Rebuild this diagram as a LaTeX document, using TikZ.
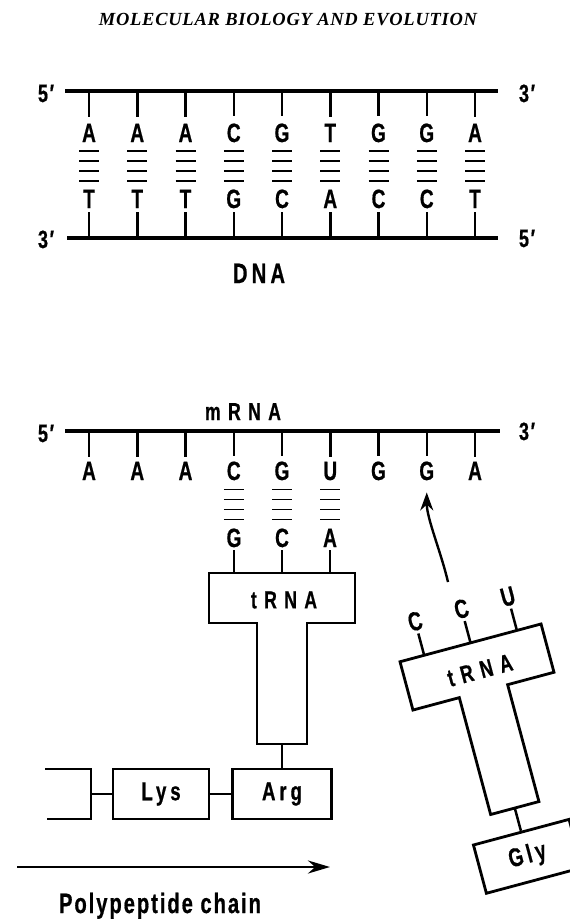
\documentclass[tikz,border=0pt]{standalone}
\usepackage{fontspec}
\usepackage{tikz}
\usetikzlibrary{arrows.meta}
\newfontfamily\labfont[FakeStretch=0.72,LetterSpace=7,FakeBold=0.6]{Liberation Sans}
\newfontfamily\boxfont[FakeStretch=0.72,LetterSpace=15,FakeBold=0.6]{Liberation Sans}
\newfontfamily\wideLabfont[FakeStretch=0.72,LetterSpace=30,FakeBold=0.6]{Liberation Sans}
\newfontfamily\titlefont[LetterSpace=4]{Liberation Serif}
\tikzset{
  nuc/.style={font=\labfont\bfseries\fontsize{26.5}{26.5}\selectfont, inner sep=0pt, anchor=base},
  lab/.style={font=\labfont\bfseries\fontsize{28}{28}\selectfont, inner sep=0pt, anchor=base},
  wideLab/.style={font=\wideLabfont\bfseries\fontsize{24.5}{24.5}\selectfont, inner sep=0pt},
  ends/.style={font=\labfont\bfseries\fontsize{25}{25}\selectfont, inner sep=0pt, anchor=base},
  strand/.style={line width=3.2pt},
  tick/.style={line width=2.5pt},
  hbond/.style={line width=1.6pt},
  boxLine/.style={line width=2.8pt, line join=miter},
  aa/.style={draw, line width=2.8pt, minimum width=99pt, minimum height=50pt, inner sep=0pt,
    font=\boxfont\bfseries\fontsize{26}{26}\selectfont},
  curvy/.style={line width=2.4pt, -{Stealth[length=18pt,width=13pt]}},
  chainArrow/.style={line width=2.8pt, -{Stealth[length=22pt,width=13pt]}}
}

\begin{document}
\begin{tikzpicture}[x=1pt,y=-1pt]
  \clip (0,0) rectangle (570,921);
  \fill[white] (0,0) rectangle (570,921);
  \node[font=\titlefont\bfseries\itshape\fontsize{18.5}{18.5}\selectfont, inner sep=0pt, anchor=base]
    (title) at (288,25) {MOLECULAR BIOLOGY AND EVOLUTION};

  % DNA double strand
  \coordinate (dnaTopL) at (65,91);  \coordinate (dnaTopR) at (498,91);
  \coordinate (dnaBotL) at (67,238); \coordinate (dnaBotR) at (498,238);
  \draw[strand] (dnaTopL) -- (dnaTopR);
  \draw[strand] (dnaBotL) -- (dnaBotR);
  \node[ends] (d5) at (46,102) {5′};
  \node[ends] (d3) at (527,102) {3′};
  \node[ends] (e3) at (46,248) {3′};
  \node[ends] (e5) at (527,247) {5′};
  \foreach \na/\nb [count=\i from 0] in {A/T,A/T,A/T,C/G,G/C,T/A,G/C,G/C,A/T} {
    \node[nuc] (d\i) at ({89+48.25*\i},142) {\na};
    \node[nuc] (e\i) at ({89+48.25*\i},208) {\nb};
    \draw[tick, shorten >=7pt] (d\i |- dnaTopL) -- (d\i);
    \draw[tick, shorten >=4pt] (e\i |- dnaBotL) -- (e\i);
    \path (d\i.south) -- (e\i.north) coordinate[midway] (p\i);
    \foreach \dy in {-15,-5,5,15}
      \draw[hbond] ([shift={(-10,\dy)}]p\i) -- ([shift={(10,\dy)}]p\i);
  }
  \node[lab, font=\boxfont\bfseries\fontsize{28}{28}\selectfont] (dna) at (259,283) {DNA};

  % mRNA
  \coordinate (mL) at (65,431); \coordinate (mR) at (500,431);
  \draw[strand] (mL) -- (mR);
  \node[ends] (m5) at (46,442) {5′};
  \node[ends] (m3) at (527,440) {3′};
  \node[wideLab, anchor=base] (mrna) at (243,420) {mRNA};
  \foreach \na [count=\i from 0] in {A,A,A,C,G,U,G,G,A} {
    \node[nuc] (m\i) at ({89+48.25*\i},480) {\na};
    \draw[tick, shorten >=5pt] (m\i |- mL) -- (m\i);
  }

  % tRNA carrying Arg
  \begin{scope}[shift={(282,598)}]
    \draw[boxLine] (-73,-25) -- (73,-25) -- (73,25) -- (25,25) -- (25,146)
      -- (-25,146) -- (-25,25) -- (-73,25) -- cycle;
    \node[wideLab] (rnaA) at (2,2) {tRNA};
    \coordinate (footA) at (0,146);
    \foreach \na [count=\i from 0] in {G,C,A} {
      \node[nuc] (g\i) at ({-48+48*\i},-51) {\na};
      \coordinate (gt\i) at ({-48+48*\i},-25);
      \draw[tick, shorten <=3pt] (g\i) -- (gt\i);
    }
    \node[aa] (arg) at (0,196) {Arg};
    \draw[tick] (footA) -- (arg.north);
  \end{scope}
  \foreach \i/\j in {0/3,1/4,2/5} {
    \path (m\j.south) -- (g\i.north) coordinate[midway] (q\i);
    \foreach \dy in {-15,-5,5,15}
      \draw[hbond] ([shift={(-10,\dy)}]q\i) -- ([shift={(10,\dy)}]q\i);
  }

  % chain
  \node[aa, minimum width=96pt] (lys) at (161,794) {Lys};
  \draw[boxLine] (45,769) -| (91,819) -- (47,819);
  \coordinate (prev) at (91,794);
  \draw[tick] (prev) -- (lys.west);
  \draw[tick] (lys.east) -- (arg.west);

  % incoming tRNA carrying Gly
  \begin{scope}[shift={(477,667)}, rotate=15, transform shape]
    \draw[boxLine] (-73,-25) -- (73,-25) -- (73,25) -- (25,25) -- (25,146)
      -- (-25,146) -- (-25,25) -- (-73,25) -- cycle;
    \node[wideLab] (rnaB) at (2,4) {tRNA};
    \coordinate (footB) at (0,146);
    \foreach \na [count=\i from 0] in {C,C,U} {
      \node[nuc] (c\i) at ({-48+48*\i},-51) {\na};
      \coordinate (ct\i) at ({-48+48*\i},-25);
      \draw[tick, shorten <=3pt] (c\i) -- (ct\i);
    }
    \node[aa] (gly) at (0,196) {Gly};
    \draw[tick] (footB) -- (gly.north);
  \end{scope}

  \coordinate (cue) at (448,582);
  \draw[curvy] (cue) .. controls +(-7,-30) and +(0,26) .. ([yshift=-12pt]m7.south);

  \coordinate (chainL) at (17,867); \coordinate (chainR) at (330,867);
  \draw[chainArrow] (chainL) -- (chainR);
  \node[lab] (chain) at (160,913) {Polypeptide chain};
\end{tikzpicture}
\end{document}
